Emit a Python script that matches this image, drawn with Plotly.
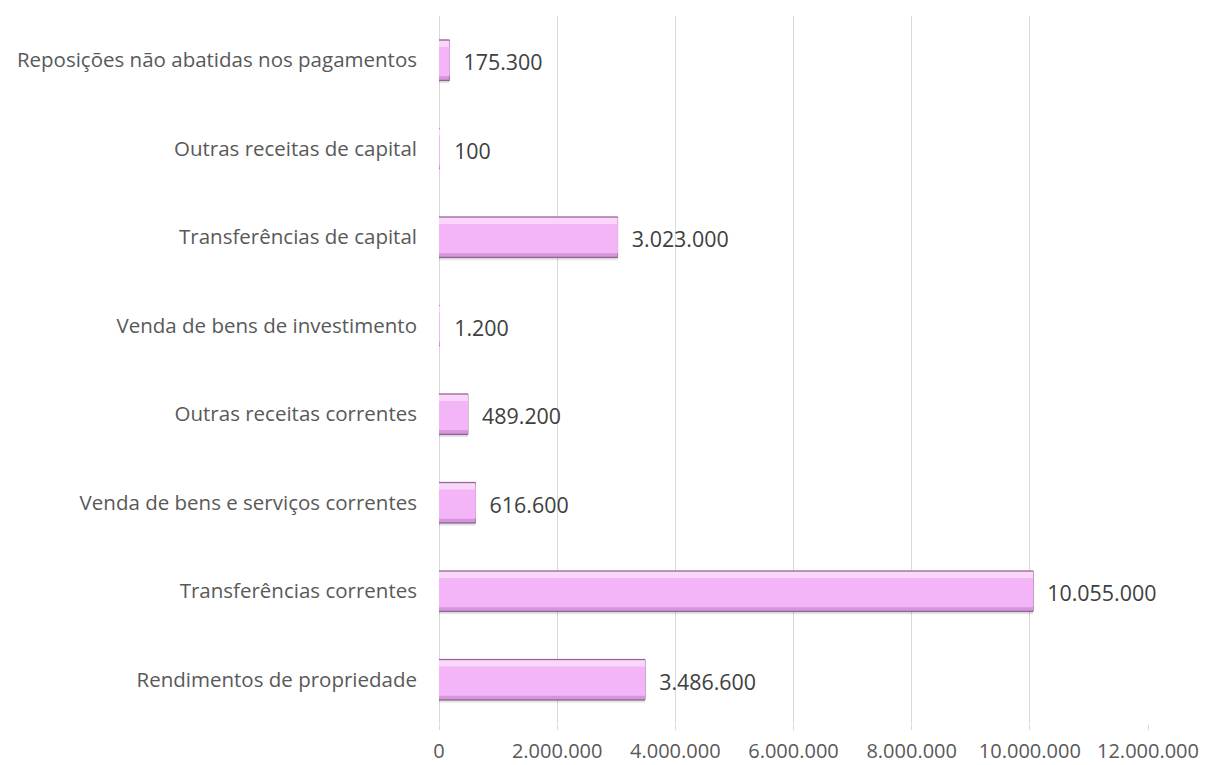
import plotly.graph_objects as go

categories = [
    "Rendimentos de propriedade",
    "Transferências correntes",
    "Venda de bens e serviços correntes",
    "Outras receitas correntes",
    "Venda de bens de investimento",
    "Transferências de capital",
    "Outras receitas de capital",
    "Reposições não abatidas nos pagamentos",
]
values = [3486600, 10055000, 616600, 489200, 1200, 3023000, 100, 175300]
tick_vals = [0, 2000000, 4000000, 6000000, 8000000, 10000000, 12000000]

FONT = "'Open Sans', Lato, sans-serif"

fig = go.Figure()

# layered bars to imitate the bevelled look
layers = [
    # (colour, offset, width, line)
    ("rgba(0,0,0,0.10)", -0.26, 0.46, None),     # soft shadow
    ("#9A6A9E", -0.23, 0.46, "#8A5C8E"),          # dark rim
    ("#D596D9", -0.22, 0.44, None),               # lower bevel
    ("#FAD6FB", -0.17, 0.39, None),               # upper highlight
]
for col, off, w, ln in layers:
    fig.add_trace(go.Bar(
        y=categories, x=values, orientation="h", width=w, offset=off,
        marker=dict(color=col, line=dict(color=ln or col, width=1 if ln else 0)),
        hoverinfo="skip", showlegend=False,
    ))

fig.add_trace(go.Bar(
    y=categories, x=values, orientation="h", width=0.33, offset=-0.18,
    marker=dict(color="#F4B5F8", line=dict(width=0)),
    texttemplate="\u00a0\u00a0%{x:,d}", textposition="outside",
    textfont=dict(family=FONT, size=22, color="#404040"),
    cliponaxis=False, hoverinfo="skip", showlegend=False,
))

# the page body adds an 8px offset, so the figure is 8px smaller and top/left margins shifted
fig.update_layout(
    width=1200, height=757,
    margin=dict(l=431, r=60, t=8, b=41),
    plot_bgcolor="white", paper_bgcolor="white",
    barmode="overlay",
    separators=",.",
    font=dict(family=FONT, size=20.5, color="#595959"),
    xaxis=dict(
        range=[0, 12000000], tickvals=tick_vals, tickformat=",d",
        showgrid=True, gridcolor="#D9D9D9", gridwidth=1,
        zeroline=True, zerolinecolor="#D9D9D9", zerolinewidth=1,
        showline=False, ticks="outside", ticklen=5, tickcolor="#D9D9D9",
        ticklabelstandoff=4, automargin=False,
        tickfont=dict(family=FONT, size=20, color="#595959"),
    ),
    yaxis=dict(
        showgrid=False, showline=False, zeroline=False,
        ticks="", ticklabelstandoff=21, automargin=False,
        range=[-0.5, 7.5],
        tickfont=dict(family=FONT, size=20.5, color="#595959"),
    ),
)

fig.write_html("out.html")
